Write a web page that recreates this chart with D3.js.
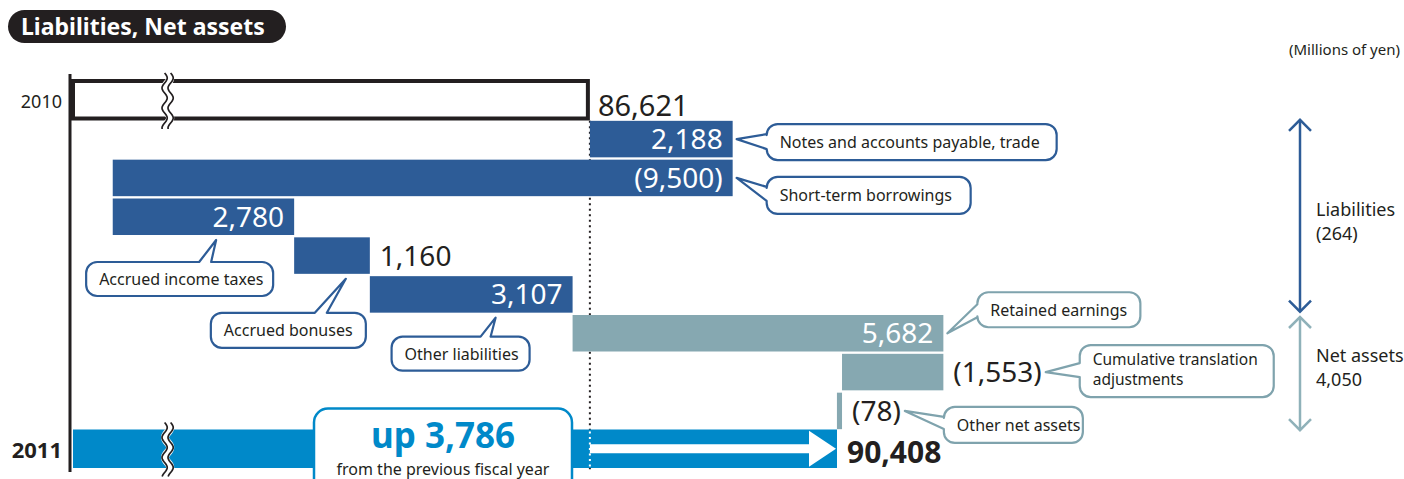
<!DOCTYPE html>
<html>
<head>
<meta charset="utf-8">
<script src="https://cdn.jsdelivr.net/npm/d3@7"></script>
<style>
body { margin: 0; background: #fff; }
svg { display: block; font-family: "Noto Sans", sans-serif; }
</style>
</head>
<body>
<svg width="1404" height="479"></svg>
<script>
var WIDTH = 1404;
var HEIGHT = 479;

// data
var startYear = '2010';
var endYear = '2011';
var startTotal = 86621;
var endTotal = 90408;
var items = ['Notes and accounts payable, trade', 'Short-term borrowings', 'Accrued income taxes',
    'Accrued bonuses', 'Other liabilities', 'Retained earnings',
    'Cumulative translation adjustments', 'Other net assets'];
var changes = [2188, -9500, 2780, 1160, 3107, 5682, -1553, -78];
var groups = ['liab', 'liab', 'liab', 'liab', 'liab', 'net', 'net', 'net'];
var bubbleLines = [['Notes and accounts payable, trade'], ['Short-term borrowings'], ['Accrued income taxes'],
    ['Accrued bonuses'], ['Other liabilities'], ['Retained earnings'],
    ['Cumulative translation', 'adjustments'], ['Other net assets']];
var summaryNames = ['Liabilities', 'Net assets'];
var summaryValues = ['(264)', '4,050'];
var diffLabel = 'up 3,786';
var diffNote = 'from the previous fiscal year';
var titleText = 'Liabilities, Net assets';
var unitText = '(Millions of yen)';

// bubble placement (relative to the pointer tip)
var bubbleLayout = [
    {side: 'left', dx: 30, dy: -15, w: 290, h: 36, b: [10, 25]},
    {side: 'left', dx: 30, dy: -1, w: 204, h: 37, b: [10, 24]},
    {side: 'top', tipDx: -78, dx: -130, dy: 22, w: 187, h: 34, b: [113, 125]},
    {side: 'top', tipDx: -24, dx: -135, dy: 34, w: 155, h: 35, b: [104, 116]},
    {side: 'top', tipDx: -77, dx: -104, dy: 19, w: 138, h: 34, b: [89, 99]},
    {side: 'left', dx: 30, dy: -41, w: 163, h: 35, b: [12, 25]},
    {side: 'left', dx: 34, dy: -27, w: 194, h: 52, b: [18, 32]},
    {side: 'left', dx: 39, dy: -4, w: 139, h: 36, b: [10, 22]}
];
var summaryShift = [3, -9];

var colors = {liab: '#2d5c97', net: '#86a8b1'};
var strokeColors = {liab: '#2d5c97', net: '#7fa3ad'};
var arrowColors = {liab: '#2d5c97', net: '#8fb1b9'};
var totalColor = '#0089c9';
var ink = '#231f20';

var svg = d3.select('svg');

var xMin = 78700;
var x = d3.scaleLinear().domain([xMin, endTotal]).range([73, 837]);
var rows = [startYear].concat(items, [endYear]);
var y = d3.scaleBand().domain(rows).range([82, 468]).paddingInner(0.06);
var bw = y.bandwidth();

var run = startTotal;
var steps = items.map(function(name, i){
    var s = {name: name, value: changes[i], group: groups[i], from: run, to: run + changes[i], lines: bubbleLines[i], lay: bubbleLayout[i]};
    run = s.to;
    return s;
});
steps.forEach(function(s){
    s.left = x(Math.min(s.from, s.to));
    s.right = x(Math.max(s.from, s.to));
    s.inside = (s.right - s.left) > 120;
});

function fmt(v){
    var t = d3.format(',')(Math.abs(v));
    return v < 0 ? '(' + t + ')' : t;
}

// title
svg.append('rect').attr('x', 8).attr('y', 10).attr('width', 278).attr('height', 33)
    .attr('rx', 16.5).attr('fill', ink);
svg.append('text').attr('x', 21).attr('y', 35).text(titleText)
    .attr('fill', '#fff').attr('font-weight', 'bold').attr('font-size', 23);
svg.append('text').attr('x', 1400).attr('y', 55).attr('text-anchor', 'end')
    .attr('font-size', 15).attr('fill', ink).text(unitText);

// dotted reference line at start total
svg.append('line')
    .attr('x1', x(startTotal)).attr('x2', x(startTotal))
    .attr('y1', y(items[0])).attr('y2', 472)
    .attr('stroke', ink).attr('stroke-width', 2).attr('stroke-dasharray', '2,3.5');

// waterfall bars
svg.selectAll('rect.step')
    .data(steps)
    .enter()
    .append('rect')
    .attr('class', 'step')
    .attr('x', function(d){ return d.left; })
    .attr('y', function(d){ return y(d.name); })
    .attr('width', function(d){ return Math.max(d.right - d.left, 4); })
    .attr('height', bw)
    .attr('fill', function(d){ return colors[d.group]; });

// 2011 total bar
var yEnd = y(endYear);
svg.append('rect').attr('x', x(xMin)).attr('y', yEnd - 2)
    .attr('width', x(endTotal) - x(xMin)).attr('height', bw + 2)
    .attr('fill', totalColor);
svg.append('line')
    .attr('x1', x(startTotal)).attr('x2', x(startTotal))
    .attr('y1', yEnd).attr('y2', yEnd + bw)
    .attr('stroke', '#fff').attr('stroke-width', 2).attr('stroke-dasharray', '2,3.5');
var cy = yEnd + bw / 2 - 1;
svg.append('rect').attr('x', x(startTotal)).attr('y', cy - 4.5)
    .attr('width', x(endTotal) - 27 - x(startTotal)).attr('height', 9).attr('fill', '#fff');
svg.append('path')
    .attr('d', 'M' + (x(endTotal) - 28) + ',' + (cy - 18) + 'L' + (x(endTotal) - 1) + ',' + cy +
        'L' + (x(endTotal) - 28) + ',' + (cy + 18) + 'Z')
    .attr('fill', '#fff');

// 2010 total (outlined)
var yStart = y(startYear);
svg.append('rect').attr('x', x(xMin)).attr('y', yStart - 1)
    .attr('width', x(startTotal) - x(xMin) - 2).attr('height', bw + 1)
    .attr('fill', 'none').attr('stroke', ink).attr('stroke-width', 4);

// axis line
svg.append('line').attr('x1', 70).attr('x2', 70).attr('y1', 74).attr('y2', 472)
    .attr('stroke', ink).attr('stroke-width', 3);

// break marks
var breakValue = 80150;
function wave(cx, y0, y1){
    var pts = d3.range(y0, y1 + 0.5, 1).map(function(v){
        return [cx + 2.6 * Math.sin((v - y0) / 20 * 2 * Math.PI), v];
    });
    return d3.line()(pts);
}
[[yStart - 9, yStart + bw + 10], [yEnd - 9, yEnd + bw + 8]].forEach(function(r){
    var bx = x(breakValue);
    svg.append('path').attr('d', wave(bx, r[0], r[1])).attr('fill', 'none')
        .attr('stroke', '#fff').attr('stroke-width', 8);
    [-3, 3].forEach(function(o){
        svg.append('path').attr('d', wave(bx + o, r[0], r[1])).attr('fill', 'none')
            .attr('stroke', ink).attr('stroke-width', 1.7);
    });
});

// year labels
svg.append('text').attr('x', 62).attr('y', yStart + bw / 2 + 8).attr('text-anchor', 'end')
    .attr('font-size', 18).attr('fill', ink).text(startYear);
svg.append('text').attr('x', 62).attr('y', yEnd + bw / 2 + 8).attr('text-anchor', 'end')
    .attr('font-size', 22).attr('font-weight', 'bold').attr('fill', ink).text(endYear);

// total labels
svg.append('text').attr('x', x(startTotal) + 8).attr('y', yStart + bw / 2 + 16)
    .attr('font-size', 29).attr('fill', ink).text(d3.format(',')(startTotal));
svg.append('text').attr('x', x(endTotal) + 10).attr('y', yEnd + bw / 2 + 13)
    .attr('font-size', 30).attr('font-weight', 'bold').attr('fill', ink).text(d3.format(',')(endTotal));

// step value labels
svg.selectAll('text.val')
    .data(steps)
    .enter()
    .append('text')
    .attr('class', 'val')
    .attr('x', function(d){ return d.inside ? d.right - 10 : d.right + 10; })
    .attr('y', function(d){ return y(d.name) + bw / 2 + 10; })
    .attr('text-anchor', function(d){ return d.inside ? 'end' : 'start'; })
    .attr('font-size', 28)
    .attr('fill', function(d){ return d.inside ? '#fff' : ink; })
    .text(function(d){ return fmt(d.value); })
    .each(function(d){ d.labelEnd = d.inside ? d.right : d.right + 10 + this.getComputedTextLength(); });

// up box
svg.append('rect').attr('x', 314).attr('y', yEnd - 23).attr('width', 258).attr('height', 90)
    .attr('rx', 14).attr('fill', '#fff').attr('stroke', totalColor).attr('stroke-width', 2.5);
svg.append('text').attr('x', 443).attr('y', yEnd + 17).attr('text-anchor', 'middle')
    .attr('font-size', 35).attr('font-weight', 'bold').attr('fill', totalColor).text(diffLabel);
svg.append('text').attr('x', 443).attr('y', yEnd + 44).attr('text-anchor', 'middle')
    .attr('font-size', 16).attr('fill', ink).text(diffNote);

// bubbles
function bubblePath(bx, by, w, h, r, side, b, tip){
    var p = d3.path();
    p.moveTo(bx + r, by);
    if (side === 'top') {
        p.lineTo(bx + b[0], by);
        p.lineTo(tip[0], tip[1]);
        p.lineTo(bx + b[1], by);
    }
    p.lineTo(bx + w - r, by);
    p.arcTo(bx + w, by, bx + w, by + r, r);
    p.lineTo(bx + w, by + h - r);
    p.arcTo(bx + w, by + h, bx + w - r, by + h, r);
    p.lineTo(bx + r, by + h);
    p.arcTo(bx, by + h, bx, by + h - r, r);
    if (side === 'left') {
        p.lineTo(bx, by + b[1]);
        p.lineTo(tip[0], tip[1]);
        p.lineTo(bx, by + b[0]);
    }
    p.lineTo(bx, by + r);
    p.arcTo(bx, by, bx + r, by, r);
    p.closePath();
    return p.toString();
}

steps.forEach(function(d){
    var L = d.lay;
    var tip;
    if (L.side === 'left') {
        tip = [d.labelEnd + 4, y(d.name) + bw / 2];
    } else {
        tip = [d.right + L.tipDx, y(d.name) + bw + 5];
    }
    var bx = tip[0] + L.dx, by = tip[1] + L.dy;
    svg.append('path')
        .attr('d', bubblePath(bx, by, L.w, L.h, 11, L.side, L.b, tip))
        .attr('fill', '#fff').attr('stroke', strokeColors[d.group]).attr('stroke-width', 2.2)
        .attr('stroke-linejoin', 'round');
    var multi = d.lines.length > 1;
    var t = svg.append('text').attr('font-size', multi ? 15.5 : 16).attr('fill', ink);
    d.lines.forEach(function(line, i){
        t.append('tspan').attr('x', bx + 13)
            .attr('y', multi ? by + 20 + i * 20 : by + L.h / 2 + 6)
            .text(line);
    });
});

// summary arrows on the right
var spans = [
    [y(items[0]) - 2, y(items[4]) + bw],
    [y(items[5]) + 1, y(items[7]) + bw + 2]
];
summaryNames.forEach(function(name, i){
    var s = spans[i], ax = 1300, col = arrowColors[i === 0 ? 'liab' : 'net'];
    svg.append('line').attr('x1', ax).attr('x2', ax).attr('y1', s[0] + 1).attr('y2', s[1] - 1)
        .attr('stroke', col).attr('stroke-width', 2.5);
    svg.append('path')
        .attr('d', 'M' + (ax - 11) + ',' + (s[0] + 12) + 'L' + ax + ',' + (s[0] + 1) + 'L' + (ax + 11) + ',' + (s[0] + 12) +
            'M' + (ax - 11) + ',' + (s[1] - 12) + 'L' + ax + ',' + (s[1] - 1) + 'L' + (ax + 11) + ',' + (s[1] - 12))
        .attr('fill', 'none').attr('stroke', col).attr('stroke-width', 2.5);
    var mid = (s[0] + s[1]) / 2 + summaryShift[i];
    svg.append('text').attr('x', 1316).attr('y', mid - 3).attr('font-size', 18).attr('fill', ink).text(name);
    svg.append('text').attr('x', 1316).attr('y', mid + 21).attr('font-size', 18).attr('fill', ink).text(summaryValues[i]);
});
</script>
</body>
</html>
